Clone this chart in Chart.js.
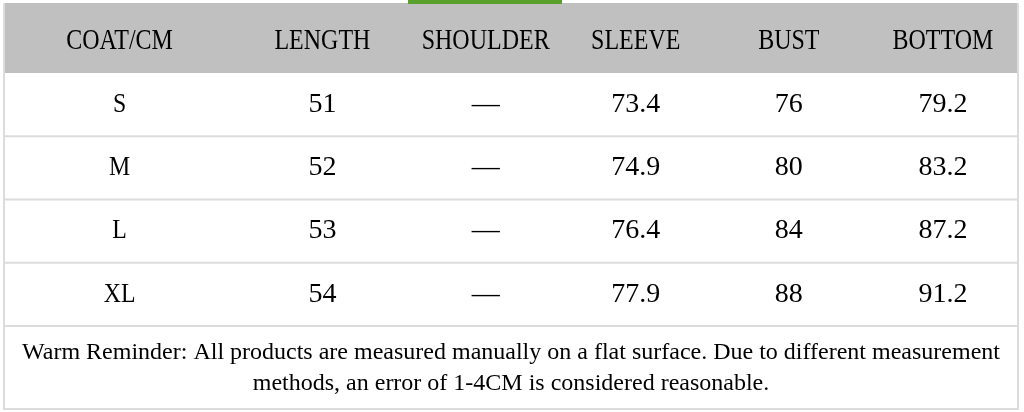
<!DOCTYPE html>
<html><head><meta charset="utf-8">
<script src="https://cdn.jsdelivr.net/npm/chart.js@4"></script>
<style>body{margin:0;background:#fff}</style>
</head><body>
<canvas id="sizeTable" width="1024" height="412"></canvas>
<script>
const columns = ["COAT/CM", "LENGTH", "SHOULDER", "SLEEVE", "BUST", "BOTTOM"];
const sizes = ["S", "M", "L", "XL"];
const length = ["51", "52", "53", "54"];
const shoulder = ["—", "—", "—", "—"];
const sleeve = ["73.4", "74.9", "76.4", "77.9"];
const bust = ["76", "80", "84", "88"];
const bottom = ["79.2", "83.2", "87.2", "91.2"];
const note = [
  "Warm Reminder: All products are measured manually on a flat surface. Due to different measurement",
  "methods, an error of 1-4CM is considered reasonable."
];

// column centres as fractions of the table width
const colCentres = [0.114, 0.314, 0.475, 0.623, 0.774, 0.926];

const tablePlugin = {
  id: "tablePlugin",
  afterDraw(chart) {
    const ctx = chart.ctx;
    const area = chart.chartArea;
    const yScale = chart.scales.y;
    const w = area.right - area.left;
    const colX = i => area.left + colCentres[i] * w;
    const rowData = [sizes, length, shoulder, sleeve, bust, bottom];
    ctx.save();
    // header band
    ctx.fillStyle = "#c0c0c0";
    ctx.fillRect(area.left, 3, w, area.top - 3);
    ctx.fillStyle = "#5aa02c";
    ctx.fillRect(408, 0, 154, 4);
    // row lines
    ctx.strokeStyle = "#dcdcdc";
    ctx.lineWidth = 2;
    const step = (area.bottom - area.top) / sizes.length;
    for (let r = 1; r <= sizes.length; r++) {
      const y = area.top + r * step;
      ctx.beginPath(); ctx.moveTo(area.left, y); ctx.lineTo(area.right, y); ctx.stroke();
    }
    ctx.beginPath();
    ctx.moveTo(area.left, 3); ctx.lineTo(area.left, 410);
    ctx.moveTo(area.right, 3); ctx.lineTo(area.right, 410);
    ctx.moveTo(area.left, 409); ctx.lineTo(area.right, 409);
    ctx.stroke();
    // header text
    ctx.fillStyle = "#000";
    ctx.textAlign = "center";
    ctx.textBaseline = "middle";
    ctx.font = "30px 'Liberation Serif'";
    columns.forEach((c, i) => {
      ctx.save();
      ctx.translate(colX(i), 41);
      ctx.scale(0.8, 1);
      ctx.fillText(c, 0, 0);
      ctx.restore();
    });
    // cells
    ctx.font = "28px 'Liberation Serif'";
    sizes.forEach((s, r) => {
      const y = yScale.getPixelForValue(r);
      rowData.forEach((col, i) => {
        ctx.save();
        ctx.translate(colX(i), y);
        if (i === 0) ctx.scale(0.85, 1);
        ctx.fillText(col[r], 0, 0);
        ctx.restore();
      });
    });
    // footer note
    ctx.font = "24px 'Liberation Serif'";
    ctx.fillText(note[0], area.left + w / 2, 353);
    ctx.fillText(note[1], area.left + w / 2, 384);
    ctx.restore();
  }
};

new Chart(document.getElementById("sizeTable"), {
  type: "bar",
  data: { labels: sizes, datasets: [{ data: [], backgroundColor: "transparent" }] },
  options: {
    responsive: false,
    animation: false,
    indexAxis: "y",
    layout: { padding: { top: 73, bottom: 86, left: 4, right: 6 } },
    plugins: { legend: { display: false }, tooltip: { enabled: false } },
    scales: {
      x: { display: false, min: 0, max: 1 },
      y: { display: false, type: "category", offset: true }
    }
  },
  plugins: [tablePlugin]
});
</script>
</body></html>
